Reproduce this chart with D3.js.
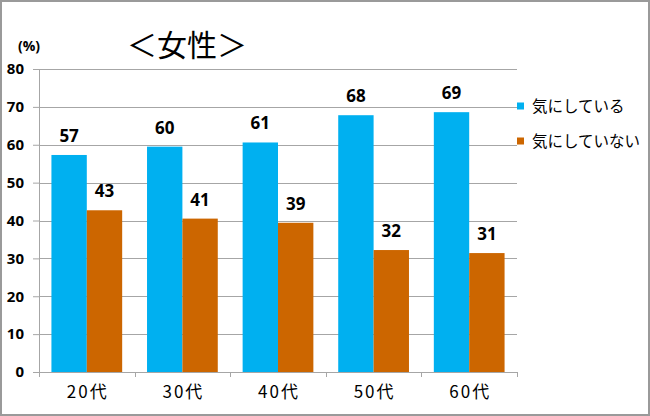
<!DOCTYPE html>
<html><head><meta charset="utf-8">
<script src="https://cdn.jsdelivr.net/npm/d3@7"></script>
<style>
html,body{margin:0;padding:0;background:#fff;}
svg{display:block;}
</style></head>
<body>
<svg id="c" width="650" height="416"></svg>
<script>
const categories = ["20代","30代","40代","50代","60代"];
const seriesNames = ["気にしている","気にしていない"];
const caring = [57.3, 59.5, 60.6, 67.8, 68.6];
const notCaring = [42.7, 40.5, 39.4, 32.2, 31.4];
const yTicks = [0,10,20,30,40,50,60,70,80];
const colors = ["#00B0F0", "#CC6600"];

const svg = d3.select("#c");
const W = 650, H = 416;
const plotL = 39, plotR = 517, plotT = 69, plotB = 372;
const numFont = "'Open Sans', 'Liberation Sans', sans-serif";
const jpFont = "'Noto Sans CJK JP', sans-serif";

svg.append("rect").attr("x",1).attr("y",1).attr("width",W-2).attr("height",H-2)
  .attr("fill","#fff").attr("stroke","#9a9a9a").attr("stroke-width",2);

const x0 = d3.scaleBand().domain(categories).range([plotL,plotR]).paddingInner(0.26).paddingOuter(0.13);
const x1 = d3.scaleBand().domain([0,1]).range([0,x0.bandwidth()]);
const y = d3.scaleLinear().domain([0,80]).range([plotB,plotT]);

// gridlines
svg.append("g").selectAll("line").data(yTicks.filter(d=>d>0)).join("line")
  .attr("x1",plotL).attr("x2",plotR).attr("y1",d=>Math.round(y(d))+0.5).attr("y2",d=>Math.round(y(d))+0.5)
  .attr("stroke","#a6a6a6").attr("stroke-width",1);

// y axis
const ya = svg.append("g").attr("transform",`translate(${plotL},0)`)
  .call(d3.axisLeft(y).tickValues(yTicks).tickSize(6).tickPadding(9));
ya.select(".domain").attr("stroke","#a6a6a6");
ya.selectAll(".tick line").attr("stroke","#a6a6a6");
ya.selectAll("text").attr("font-family",numFont)
  .attr("font-weight","bold").attr("font-size",15).attr("fill","#000");

// bars
const data = [caring, notCaring];
const groups = svg.append("g").selectAll("g").data(categories).join("g")
  .attr("transform",c=>`translate(${x0(c)},0)`);
groups.selectAll("rect").data((c,i)=>data.map((s,k)=>({k,v:s[i]}))).join("rect")
  .attr("x",d=>x1(d.k)).attr("width",x1.bandwidth())
  .attr("y",d=>y(d.v)).attr("height",d=>y(0)-y(d.v))
  .attr("fill",d=>colors[d.k]);
groups.selectAll("text").data((c,i)=>data.map((s,k)=>({k,v:s[i]}))).join("text")
  .attr("x",d=>x1(d.k)+x1.bandwidth()/2).attr("y",d=>y(d.v)-13)
  .attr("text-anchor","middle")
  .attr("font-family",numFont)
  .attr("font-weight","bold").attr("font-size",17).attr("fill","#000")
  .text(d=>d3.format(".0f")(d.v));

// x axis
const xa = svg.append("g").attr("transform",`translate(0,${plotB})`)
  .call(d3.axisBottom(x0).tickSize(0).tickPadding(14));
xa.select(".domain").attr("stroke","#a6a6a6");
xa.selectAll("text").attr("font-family",jpFont)
  .attr("font-size",17).attr("letter-spacing",2).attr("dx",1).attr("fill","#000");
// category separators
const seps = [plotL].concat(categories.map(c=>x0(c)+x0.bandwidth()+x0.step()*x0.paddingInner()/2));
svg.append("g").selectAll("line").data(seps).join("line")
  .attr("x1",d=>Math.round(d)+0.5).attr("x2",d=>Math.round(d)+0.5).attr("y1",plotB).attr("y2",plotB+5)
  .attr("stroke","#a6a6a6");

// unit label
svg.append("text").attr("x",18).attr("y",51)
  .attr("font-family",numFont)
  .attr("font-weight","bold").attr("font-size",14).text("(%)");

// title
svg.append("text").attr("x",127).attr("y",56)
  .attr("font-family",jpFont)
  .attr("font-size",30).attr("fill","#000").text("＜女性＞");

// legend
const lg = svg.append("g").selectAll("g").data(seriesNames).join("g")
  .attr("transform",(d,i)=>`translate(517,${106+i*35})`);
lg.append("rect").attr("x",0).attr("y",-3.5).attr("width",7).attr("height",7).attr("fill",(d,i)=>colors[i]);
lg.append("text").attr("x",15).attr("y",5.5)
  .attr("font-family",jpFont)
  .attr("font-size",15.5).attr("fill","#000").text(d=>d);
</script>
</body></html>
